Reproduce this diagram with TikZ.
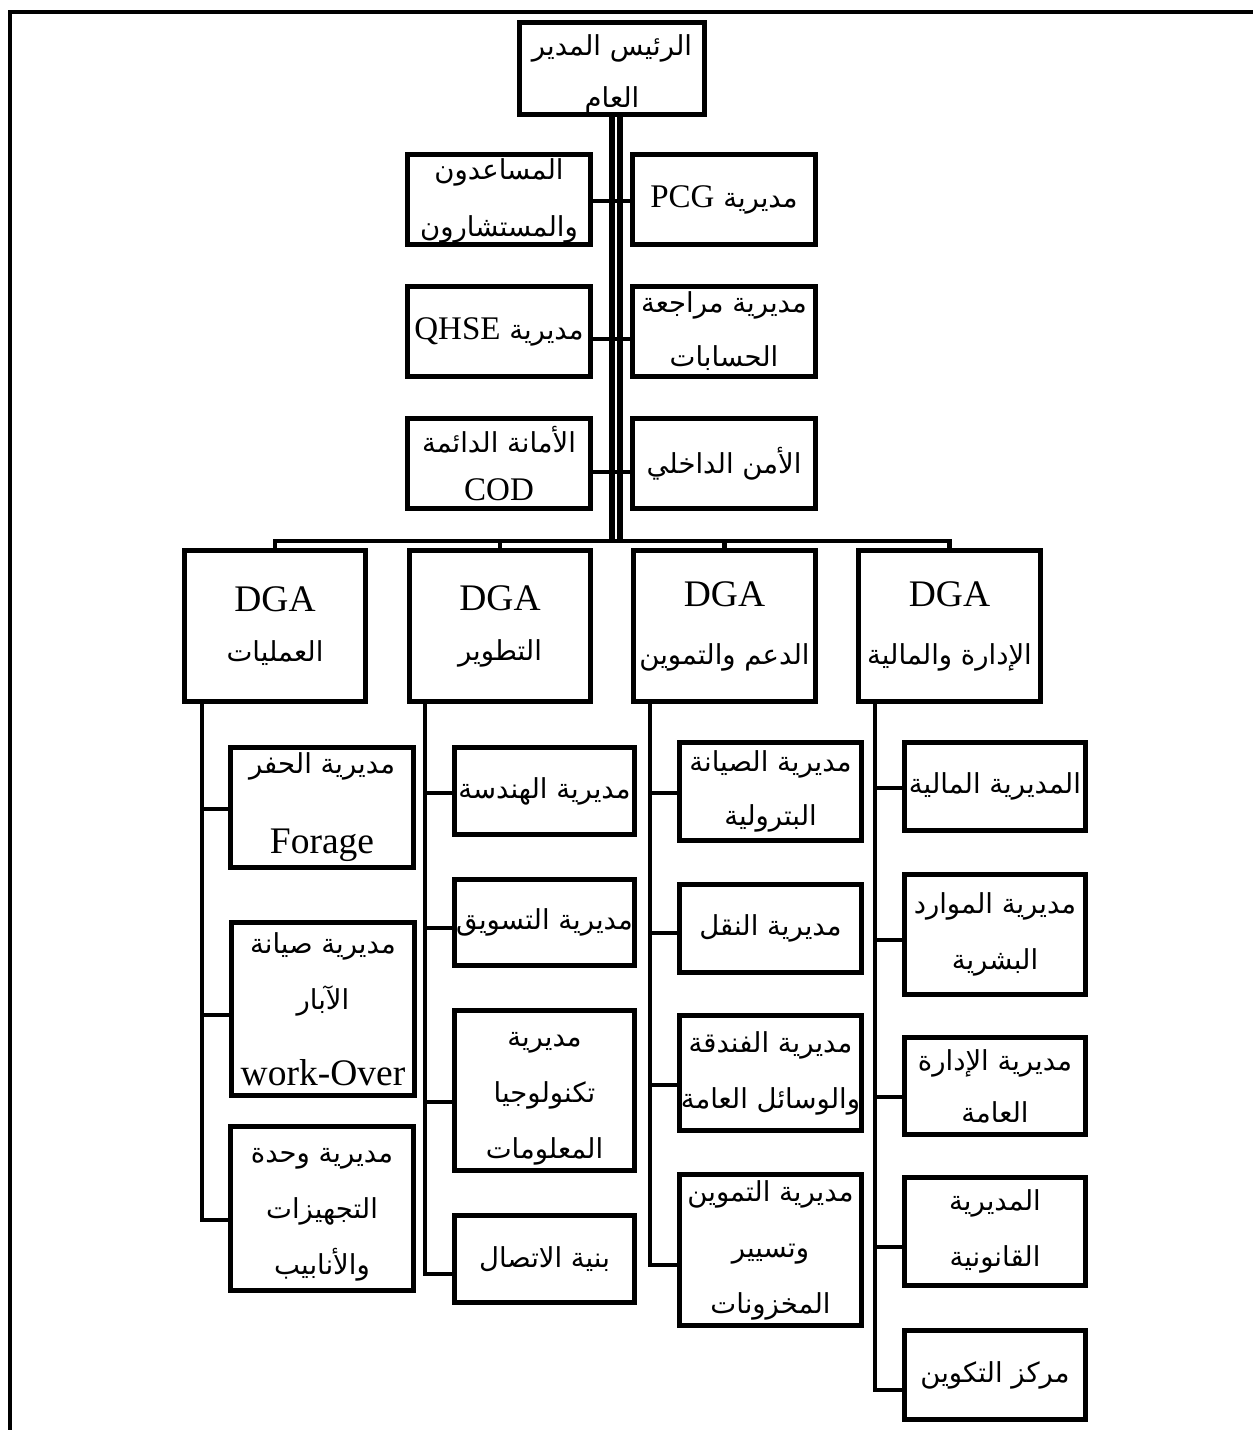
\documentclass[tikz,border=0pt]{standalone}
\usepackage{fontspec}
\setmainfont{Liberation Serif}
\newfontfamily\arfont[Script=Arabic]{DejaVu Sans}
\TeXXeTstate=1
\newcommand{\AR}[1]{{\arfont\beginR #1\endR}}
\newcommand{\LT}[1]{{\rmfamily\fontsize{33}{40}\selectfont #1}}
\newcommand{\LTb}[1]{{\rmfamily\fontsize{37.5}{44}\selectfont #1}}
\tikzset{
  box/.style={draw, line width=5pt, inner sep=0pt, align=center,
    font=\fontsize{27.5}{56}\selectfont},
  txt/.style={inner sep=0pt, align=center, font=\fontsize{27.5}{56}\selectfont},
  conn/.style={line width=4.5pt},
  trunk/.style={line width=5.5pt},
  frame/.style={line width=4pt}
}
\begin{document}
\begin{tikzpicture}[x=1pt,y=1pt]
\useasboundingbox (0,0) rectangle (1253,-1430);
% outer frame
\coordinate (fl) at (10,-1430);
\coordinate (ft) at (10,-12);
\coordinate (fr) at (1253,-12);
\draw[frame] (fl) -- (ft) -- (fr);

% top
\node[box, minimum width=185, minimum height=92] (T) at (612,-68.5) {};
\node[txt] (Tt) at ([yshift=-6]T.center)
  {\AR{الرئيس المدير}\\[-4pt]\AR{العام}};

% staff
\node[box, minimum width=183, minimum height=90] (S1L) at (499,-199.5) {};
\node[txt] (S1Lt) at ([yshift=-1]S1L.center)
  {\AR{المساعدون}\\[1pt]\AR{والمستشارون}};
\node[box, minimum width=183, minimum height=90] (S1R) at (724,-199.5)
  {\AR{مديرية \beginL\LT{PCG}\endL}};
\node[box, minimum width=183, minimum height=90] (S2L) at (499,-331.5)
  {\AR{مديرية \beginL\LT{QHSE}\endL}};
\node[box, minimum width=183, minimum height=90] (S2R) at (724,-331.5)
  {\AR{مديرية مراجعة}\\[-2pt]\AR{الحسابات}};
\node[box, minimum width=183, minimum height=90] (S3L) at (499,-463.5)
  {\AR{الأمانة الدائمة}\\[-8pt]\LT{COD}};
\node[box, minimum width=183, minimum height=90] (S3R) at (724,-463.5)
  {\AR{الأمن الداخلي}};

% trunk
\coordinate (bus) at (612,-541);
\draw[trunk] (T.south) -- (T.south |- bus);
\draw[trunk] ([xshift=8]T.south) -- ([xshift=8]T.south |- bus);

\draw[conn] ([yshift=-1.5]S1L.east) -- ([yshift=-1.5]S1R.west);
\draw[conn] ([yshift=-7.5]S2L.east) -- ([yshift=-7.5]S2R.west);
\draw[conn] ([yshift=-8.5]S3L.east) -- ([yshift=-8.5]S3R.west);

% DGA
\node[box, minimum width=181, minimum height=151] (D1) at (275,-626)
  {\LTb{DGA}\\[-6pt]\AR{العمليات}};
\node[box, minimum width=181, minimum height=151] (D2) at (500,-626)
  {\LTb{DGA}\\[-6pt]\AR{التطوير}};
\node[box, minimum width=182, minimum height=151] (D3) at (724.5,-626)
  {\LTb{DGA}\\[2pt]\AR{الدعم والتموين}};
\node[box, minimum width=182, minimum height=151] (D4) at (949.5,-626)
  {\LTb{DGA}\\[2pt]\AR{الإدارة والمالية}};

\draw[conn] (D1.north) |- (bus) -| (D4.north);
\draw[conn] (D2.north) -- (D2.north |- bus);
\draw[conn] (D3.north) -- (D3.north |- bus);

% columns
\coordinate (k1) at (202,-704);
\coordinate (k2) at (425,-704);
\coordinate (k3) at (650,-704);
\coordinate (k4) at (875,-704);

% column 1
\node[box, minimum width=183, minimum height=120] (A1) at (322,-807.5)
  {\AR{مديرية الحفر}\\[24pt]\LTb{Forage}};
\node[box, minimum width=183, minimum height=173] (A2) at (323,-1009)
  {\AR{مديرية صيانة}\\\AR{الآبار}\\[20pt]\LTb{work-Over}};
\node[box, minimum width=183, minimum height=164] (A3) at (322,-1208.5) {};
\node[txt] (A3t) at ([yshift=-6]A3.center)
  {\AR{مديرية وحدة}\\\AR{التجهيزات}\\\AR{والأنابيب}};
\draw[conn] ([yshift=-1.5]A1.west) -| (k1);
\draw[conn] ([yshift=-6]A2.west) -| (k1);
\draw[conn] ([yshift=-11.5]A3.west) -| (k1);

% column 2
\node[box, minimum width=180, minimum height=87] (B1) at (544.5,-791)
  {\AR{مديرية الهندسة}};
\node[box, minimum width=180, minimum height=86] (B2) at (544.5,-922.5)
  {\AR{مديرية التسويق}};
\node[box, minimum width=180, minimum height=160] (B3) at (544.5,-1090.5) {};
\node[txt] (B3t) at ([yshift=-8]B3.center)
  {\AR{مديرية}\\\AR{تكنولوجيا}\\\AR{المعلومات}};
\node[box, minimum width=180, minimum height=87] (B4) at (544.5,-1259)
  {\AR{بنية الاتصال}};
\draw[conn] ([yshift=-2]B1.west) -| (k2);
\draw[conn] ([yshift=-5.5]B2.west) -| (k2);
\draw[conn] ([yshift=-11.5]B3.west) -| (k2);
\draw[conn] ([yshift=-15]B4.west) -| (k2);

% column 3
\node[box, minimum width=182, minimum height=98] (C1) at (770.5,-791.5)
  {\AR{مديرية الصيانة}\\[-2pt]\AR{البترولية}};
\node[box, minimum width=182, minimum height=88] (C2) at (770.5,-928.5)
  {\AR{مديرية النقل}};
\node[box, minimum width=182, minimum height=115] (C3) at (770.5,-1073)
  {\AR{مديرية الفندقة}\\\AR{والوسائل العامة}};
\node[box, minimum width=182, minimum height=151] (C4) at (770.5,-1250)
  {\AR{مديرية التموين}\\\AR{وتسيير}\\\AR{المخزونات}};
\draw[conn] ([yshift=-1.5]C1.west) -| (k3);
\draw[conn] ([yshift=-4.5]C2.west) -| (k3);
\draw[conn] ([yshift=-12]C3.west) -| (k3);
\draw[conn] ([yshift=-15]C4.west) -| (k3);

% column 4
\node[box, minimum width=181, minimum height=88] (E1) at (995,-786.5)
  {\AR{المديرية المالية}};
\node[box, minimum width=181, minimum height=120] (E2) at (995,-934.5)
  {\AR{مديرية الموارد}\\\AR{البشرية}};
\node[box, minimum width=181, minimum height=97] (E3) at (995,-1086)
  {\AR{مديرية الإدارة}\\[-4pt]\AR{العامة}};
\node[box, minimum width=181, minimum height=108] (E4) at (995,-1231.5)
  {\AR{المديرية}\\\AR{القانونية}};
\node[box, minimum width=181, minimum height=89] (E5) at (995,-1375)
  {\AR{مركز التكوين}};
\draw[conn] ([yshift=-1.5]E1.west) -| (k4);
\draw[conn] ([yshift=-5.5]E2.west) -| (k4);
\draw[conn] ([yshift=-11]E3.west) -| (k4);
\draw[conn] ([yshift=-15.5]E4.west) -| (k4);
\draw[conn] ([yshift=-15]E5.west) -| (k4);
\end{tikzpicture}
\end{document}
